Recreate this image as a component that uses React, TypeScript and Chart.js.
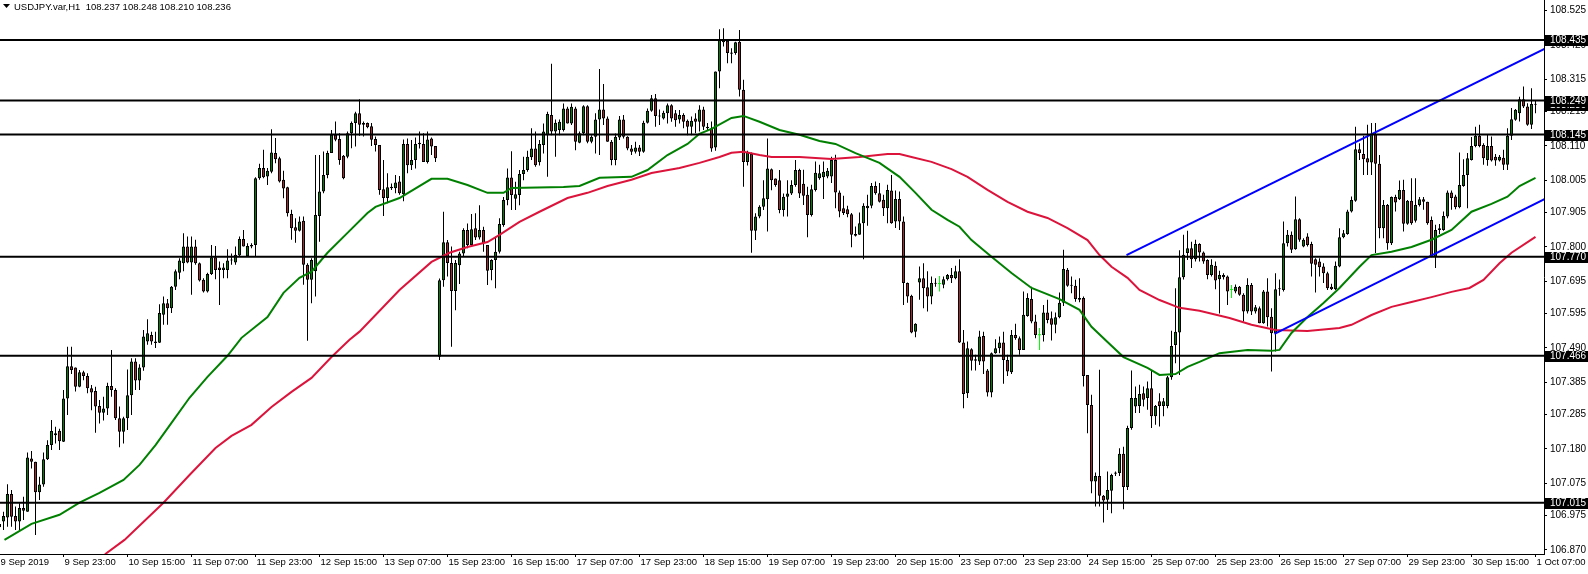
import React, { useEffect, useRef } from 'react';
import { Chart, registerables } from 'chart.js';

Chart.register(...registerables);

// ---- candles [open, high, low, close], one per hour ----
const candlesA: number[][] = [
  [106.940,106.962,106.921,106.950],[106.957,106.987,106.931,106.974],[106.970,107.072,106.941,107.042],[107.042,107.054,106.941,106.972],
  [106.974,107.003,106.931,106.957],[106.957,107.013,106.931,106.999],[106.999,107.033,106.962,106.990],[106.987,107.169,106.987,107.154],
  [107.151,107.174,107.120,107.141],[107.141,107.141,106.916,107.047],[107.047,107.095,107.023,107.071],[107.071,107.169,107.064,107.148],
  [107.148,107.207,107.146,107.192],[107.192,107.269,107.177,107.235],[107.228,107.248,107.197,107.222],[107.236,107.242,107.177,107.204],
  [107.202,107.361,107.201,107.335],[107.335,107.494,107.284,107.434],[107.434,107.494,107.410,107.422],[107.430,107.430,107.356,107.371],
  [107.371,107.422,107.369,107.415],[107.415,107.420,107.391,107.404],[107.404,107.412,107.351,107.366],[107.366,107.376,107.299,107.353],
  [107.358,107.371,107.230,107.310],[107.312,107.330,107.258,107.291],[107.291,107.340,107.267,107.304],[107.304,107.383,107.284,107.373],
  [107.373,107.484,107.340,107.361],[107.361,107.366,107.269,107.274],[107.274,107.310,107.185,107.233],[107.233,107.279,107.197,107.274],
  [107.274,107.424,107.238,107.345],[107.345,107.458,107.284,107.448],[107.448,107.458,107.361,107.390],[107.390,107.440,107.361,107.430],
  [107.430,107.545,107.420,107.525],[107.510,107.578,107.500,107.535],[107.530,107.540,107.500,107.510],[107.505,107.540,107.490,107.510],
  [107.506,107.624,107.505,107.597],[107.592,107.648,107.561,107.627],[107.627,107.640,107.561,107.612],[107.612,107.680,107.597,107.678],
  [107.678,107.731,107.668,107.725],[107.721,107.765,107.701,107.758],[107.750,107.842,107.725,107.801],[107.801,107.832,107.750,107.752],
  [107.752,107.832,107.653,107.801],[107.801,107.822,107.745,107.750],[107.750,107.752,107.694,107.697],[107.699,107.704,107.660,107.663],
  [107.663,107.721,107.660,107.717],[107.717,107.806,107.714,107.768],[107.768,107.803,107.701,107.729],[107.737,107.755,107.622,107.729],
  [107.729,107.750,107.704,107.737],[107.729,107.793,107.704,107.758],[107.758,107.780,107.745,107.760],[107.752,107.801,107.745,107.776],
  [107.774,107.832,107.770,107.824],[107.824,107.852,107.801,107.801],[107.771,107.811,107.770,107.803],[107.801,107.811,107.796,107.806],
  [107.806,108.014,107.770,108.011],[108.011,108.055,108.006,108.042],[108.042,108.098,108.011,108.014],[108.016,108.042,107.990,108.034],
  [108.031,108.161,108.026,108.090],[108.088,108.134,108.057,108.069],[108.072,108.077,107.998,108.001],[108.006,108.034,107.949,107.979],
  [107.983,107.985,107.893,107.903],[107.901,107.914,107.822,107.857],[107.860,107.888,107.813,107.850],[107.850,107.893,107.847,107.878],
  [107.880,107.893,107.684,107.745],[107.745,107.750,107.512,107.699],[107.699,107.765,107.627,107.760],[107.725,108.082,107.648,107.898],
  [107.895,108.082,107.816,107.970],[107.970,108.093,107.965,108.021],[108.021,108.095,108.011,108.088],[108.088,108.159,108.088,108.144],
  [108.144,108.185,108.124,108.129],[108.131,108.149,108.052,108.067],[108.080,108.082,108.008,108.011],[108.077,108.154,108.072,108.149],
  [108.149,108.185,108.103,108.180],[108.180,108.215,108.108,108.210],[108.210,108.253,108.141,108.175],[108.175,108.185,108.139,108.180],
  [108.180,108.182,108.164,108.167],[108.170,108.180,108.110,108.129],[108.131,108.139,108.093,108.113],[108.113,108.113,107.960,107.975],
  [107.977,108.067,107.895,107.950],[107.950,108.026,107.934,107.983],[107.980,107.995,107.975,107.985],[107.980,108.021,107.965,107.998],
];
const candlesB: number[][] = [
  [108.001,108.018,107.960,107.965],[107.962,108.130,107.940,108.116],[108.116,108.133,108.026,108.051],[108.051,108.128,108.036,108.067],
  [108.067,108.136,108.041,108.116],[108.120,108.154,108.102,108.115],[108.116,108.149,108.061,108.061],[108.061,108.154,108.056,108.130],
  [108.133,108.136,108.082,108.108],[108.110,108.110,108.061,108.072],[107.463,107.703,107.453,107.698],[107.698,107.908,107.678,107.814],
  [107.814,107.821,107.709,107.751],[107.751,107.801,107.494,107.665],[107.665,107.760,107.606,107.751],[107.744,107.785,107.686,107.780],
  [107.780,107.857,107.770,107.852],[107.852,107.872,107.796,107.806],[107.806,107.901,107.801,107.854],[107.857,107.903,107.821,107.829],
  [107.829,107.928,107.823,107.852],[107.852,107.862,107.785,107.811],[107.806,107.806,107.683,107.727],[107.729,107.762,107.698,107.760],
  [107.760,107.831,107.673,107.785],[107.785,107.888,107.780,107.870],[107.867,107.953,107.862,107.944],[107.944,108.041,107.928,108.013],
  [108.013,108.094,107.913,107.959],[107.948,108.000,107.913,107.962],[107.959,108.036,107.928,108.024],[108.024,108.077,108.005,108.036],
  [108.036,108.095,108.031,108.077],[108.075,108.164,108.067,108.102],[108.102,108.154,108.046,108.051],[108.060,108.128,108.050,108.116],
  [108.113,108.179,108.087,108.154],[108.143,108.215,108.015,108.208],[108.205,108.362,108.143,108.154],[108.154,108.191,108.077,108.181],
  [108.159,108.191,108.143,108.184],[108.159,108.240,108.154,108.225],[108.225,108.230,108.179,108.179],[108.179,108.240,108.174,108.230],
  [108.225,108.230,108.097,108.123],[108.120,108.154,108.118,108.149],[108.149,108.235,108.143,108.232],[108.232,108.235,108.118,108.123],
  [108.123,108.143,108.118,108.138],[108.138,108.210,108.087,108.191],[108.191,108.346,108.082,108.222],[108.222,108.300,108.174,108.194],
  [108.194,108.200,108.123,108.123],[108.123,108.128,108.051,108.067],[108.067,108.148,108.051,108.138],[108.136,108.202,108.128,108.191],
  [108.191,108.205,108.133,108.138],[108.138,108.140,108.097,108.102],[108.102,108.113,108.082,108.092],[108.092,108.123,108.087,108.105],
  [108.105,108.113,108.079,108.092],[108.092,108.187,108.089,108.181],[108.181,108.225,108.179,108.218],[108.218,108.266,108.215,108.256],
  [108.256,108.269,108.169,108.202],[108.202,108.222,108.174,108.200],[108.194,108.218,108.191,108.212],[108.210,108.240,108.179,108.235],
  [108.235,108.238,108.184,108.194],[108.210,108.220,108.169,108.189],[108.191,108.220,108.179,108.205],[108.205,108.210,108.164,108.184],
  [108.187,108.191,108.143,108.169],[108.169,108.200,108.143,108.187],[108.194,108.210,108.149,108.184],[108.184,108.235,108.154,108.222],
  [108.222,108.230,108.159,108.169],[108.169,108.180,108.159,108.164],[108.164,108.185,108.092,108.102],[108.105,108.338,108.095,108.338],
  [108.338,108.468,108.287,108.436],[108.436,108.471,108.415,108.428],[108.433,108.436,108.364,108.395],[108.397,108.410,108.364,108.393],
  [108.395,108.430,108.390,108.428],[108.430,108.466,108.262,108.282],[108.282,108.313,107.985,108.061],[108.061,108.095,108.050,108.090],
  [108.085,108.090,107.782,107.850],[107.850,107.903,107.821,107.893],[107.893,107.928,107.888,107.923],[107.923,108.005,107.913,107.949],
  [107.946,108.133,107.847,108.041],[108.038,108.041,107.974,108.005],[108.010,108.010,107.985,107.990],[108.005,108.036,107.903,107.913],
  [107.913,107.964,107.893,107.954],[107.954,108.005,107.893,107.964],[107.964,108.005,107.959,107.990],[107.990,108.067,107.985,108.036],
];
const candlesC: number[][] = [
  [108.036,108.040,107.950,107.964],[107.994,108.037,107.929,107.957],[107.960,107.985,107.830,107.898],[107.898,107.991,107.893,107.977],
  [107.975,108.062,107.970,108.028],[108.011,108.052,108.006,108.026],[108.014,108.062,107.947,108.031],[108.016,108.042,108.011,108.034],
  [108.016,108.077,107.996,108.067],[108.067,108.083,107.919,107.967],[107.967,107.973,107.891,107.909],[107.919,107.957,107.898,107.904],
  [107.916,107.926,107.891,107.900],[107.900,107.904,107.799,107.837],[107.840,107.863,107.832,107.834],[107.837,107.906,107.837,107.873],
  [107.873,107.934,107.762,107.926],[107.919,107.960,107.865,107.926],[107.926,107.996,107.919,107.987],[107.987,108.001,107.960,107.965],
  [107.965,107.996,107.936,107.939],[107.945,107.960,107.895,107.919],[107.919,107.991,107.873,107.975],[107.973,108.021,107.871,107.873],
  [107.878,107.973,107.858,107.947],[107.947,107.970,107.852,107.878],[107.878,107.893,107.622,107.689],[107.689,107.691,107.629,107.648],
  [107.650,107.653,107.535,107.537],[107.540,107.566,107.523,107.564],[107.691,107.740,107.638,107.704],[107.704,107.750,107.612,107.673],
  [107.676,107.725,107.602,107.648],[107.648,107.709,107.624,107.689],[107.689,107.704,107.678,107.687],[107.686,107.711,107.663,107.686],
  [107.684,107.709,107.673,107.701],[107.701,107.717,107.697,107.714],[107.714,107.735,107.689,107.704],[107.704,107.742,107.701,107.725],
  [107.725,107.762,107.505,107.507],[107.507,107.545,107.305,107.349],[107.351,107.510,107.336,107.489],[107.486,107.489,107.421,107.451],
  [107.455,107.469,107.421,107.451],[107.448,107.543,107.438,107.525],[107.527,107.540,107.410,107.448],[107.421,107.425,107.341,107.353],
  [107.353,107.476,107.339,107.474],[107.474,107.517,107.472,107.489],[107.489,107.525,107.474,107.507],[107.507,107.540,107.380,107.453],
  [107.453,107.469,107.404,107.418],[107.415,107.545,107.410,107.530],[107.530,107.564,107.515,107.520],[107.520,107.525,107.469,107.484],
  [107.484,107.663,107.484,107.592],[107.588,107.658,107.586,107.643],[107.640,107.678,107.566,107.571],[107.571,107.592,107.520,107.530],
  [107.529,107.551,107.484,107.529],[107.530,107.622,107.510,107.599],[107.599,107.638,107.566,107.576],[107.581,107.602,107.513,107.561],
  [107.561,107.599,107.535,107.584],[107.584,107.660,107.581,107.629],[107.629,107.791,107.619,107.732],[107.730,107.735,107.678,107.681],
  [107.684,107.709,107.658,107.681],[107.681,107.699,107.632,107.640],[107.643,107.704,107.630,107.638],[107.643,107.648,107.372,107.404],
  [107.407,107.407,107.228,107.315],[107.315,107.346,107.044,107.080],[107.080,107.108,107.003,107.097],[107.097,107.423,107.003,107.036],
  [107.036,107.039,106.954,107.022],[107.024,107.111,106.993,107.054],[107.052,107.104,106.983,107.100],[107.104,107.111,107.097,107.108],
  [107.106,107.182,107.097,107.165],[107.165,107.187,106.995,107.063],[107.063,107.251,107.054,107.244],[107.244,107.421,107.239,107.336],
  [107.310,107.372,107.290,107.336],[107.312,107.377,107.290,107.349],[107.351,107.372,107.310,107.331],[107.336,107.387,107.300,107.366],
  [107.366,107.421,107.244,107.280],[107.280,107.315,107.254,107.312],[107.326,107.351,107.249,107.312],[107.312,107.336,107.280,107.326],
  [107.312,107.404,107.305,107.400],[107.400,107.543,107.392,107.496],[107.499,107.673,107.443,107.540],[107.537,107.790,107.407,107.707],
  [107.707,107.837,107.700,107.776],[107.781,107.850,107.760,107.796],[107.796,107.816,107.735,107.762],[107.762,107.822,107.755,107.809],
];
const candlesD: number[][] = [
  [107.809,107.811,107.755,107.783],[107.783,107.786,107.748,107.755],[107.760,107.762,107.701,107.714],[107.714,107.762,107.709,107.745],
  [107.742,107.755,107.670,107.697],[107.701,107.727,107.596,107.714],[107.714,107.719,107.700,107.707],[107.709,107.712,107.622,107.663],
  [107.668,107.683,107.643,107.668],[107.663,107.685,107.658,107.678],[107.678,107.680,107.650,107.653],[107.653,107.658,107.571,107.602],
  [107.602,107.704,107.596,107.683],[107.683,107.689,107.591,107.602],[107.602,107.622,107.596,107.615],[107.612,107.617,107.566,107.566],
  [107.566,107.668,107.564,107.663],[107.663,107.704,107.556,107.584],[107.586,107.612,107.418,107.535],[107.535,107.719,107.479,107.670],
  [107.670,107.700,107.650,107.673],[107.668,107.878,107.663,107.811],[107.811,107.852,107.801,107.837],[107.837,107.847,107.781,107.791],
  [107.793,107.955,107.791,107.885],[107.885,107.888,107.816,107.822],[107.801,107.827,107.799,107.822],[107.832,107.842,107.801,107.806],
  [107.809,107.816,107.709,107.748],[107.762,107.765,107.660,107.745],[107.755,107.765,107.709,107.738],[107.740,107.750,107.689,107.719],
  [107.719,107.724,107.668,107.673],[107.678,107.687,107.668,107.670],[107.670,107.755,107.668,107.742],[107.740,107.857,107.738,107.830],
  [107.830,107.852,107.827,107.842],[107.840,107.914,107.837,107.909],[107.909,107.955,107.906,107.944],[107.942,108.169,107.939,108.100],
  [108.100,108.118,108.067,108.088],[108.085,108.141,108.021,108.069],[108.072,108.175,108.021,108.059],[108.059,108.180,108.021,108.146],
  [108.146,108.180,107.781,108.055],[108.055,108.082,107.827,107.857],[107.857,107.944,107.827,107.929],[107.929,107.932,107.791,107.811],
  [107.811,107.955,107.806,107.953],[107.953,107.960,107.909,107.936],[107.946,108.004,107.944,107.975],[107.975,108.006,107.847,107.871],
  [107.871,107.944,107.868,107.942],[107.942,108.011,107.868,107.873],[107.880,108.011,107.875,107.929],[107.929,107.953,107.924,107.946],
  [107.946,107.953,107.914,107.939],[107.939,107.939,107.868,107.873],[107.883,107.893,107.768,107.770],[107.770,107.868,107.735,107.852],
  [107.852,107.870,107.840,107.857],[107.852,107.909,107.850,107.895],[107.893,107.973,107.888,107.967],[107.967,107.973,107.914,107.950],
  [107.955,107.960,107.916,107.922],[107.922,108.090,107.919,107.990],[107.987,108.069,107.985,108.021],[108.021,108.088,107.919,108.072],
  [108.067,108.137,108.065,108.110],[108.110,108.169,108.106,108.141],[108.141,108.175,108.106,108.110],[108.113,108.118,108.052,108.072],
  [108.067,108.144,108.049,108.110],[108.110,108.139,108.062,108.065],[108.077,108.085,108.049,108.065],[108.065,108.082,108.062,108.077],
  [108.074,108.098,108.036,108.052],[108.052,108.164,108.036,108.141],[108.141,108.226,108.128,108.192],[108.190,108.223,108.187,108.221],
  [108.210,108.261,108.185,108.253],[108.253,108.292,108.226,108.231],[108.231,108.241,108.172,108.175],[108.175,108.287,108.162,108.239],
  [108.237,108.248,108.210,108.236],
];

// ---- moving averages (read at sample bars) ----
const fastMaBars = [1.25,8,15,20,25,31,35,39,43,47.5,52,57,60.5,67,71,75,78,82,87,92,94,100,108,112,117,122,126,128,141,145,150,158,162,167,172,175,178,183,186,190,195,200,205,209,214,220,225,229,233,237,240,243,248,253,258,265,270,273,277,281,287,290,294,297,300,305,312,318,320,323,327,331,335,340,343,348,353,358,363,368,373,377,380,384];
const fastMa = [106.901,106.950,106.978,107.015,107.045,107.085,107.131,107.192,107.260,107.337,107.401,107.466,107.521,107.585,107.659,107.705,107.724,107.782,107.843,107.904,107.923,107.950,108.009,108.009,107.990,107.966,107.966,107.981,107.984,107.987,108.012,108.015,108.036,108.082,108.116,108.147,108.162,108.196,108.202,108.184,108.159,108.144,108.125,108.116,108.088,108.058,108.015,107.966,107.914,107.883,107.862,107.821,107.770,107.720,107.674,107.640,107.607,107.555,107.508,107.462,107.429,107.407,107.410,107.432,107.447,107.474,107.484,107.481,107.484,107.536,107.585,107.628,107.674,107.739,107.775,107.785,107.800,107.822,107.852,107.908,107.932,107.954,107.987,108.012];
const slowMaBars = [24,26.5,31.25,41,47.5,54,58,63,68,73,78,83,87.5,90,100,108,112.5,117,122,125,130,135,142,147,152,158,163,170,175,180,183,186,190,193,200,208,215,222,225,228,233,238,242,247,252,257,262,267,272,275,278,282,285,290,295,300,307.5,313,319,327,335,338,343,348,353,358,363,367.5,371,375,378,384];
const slowMa = [106.80,106.858,106.901,107.015,107.100,107.183,107.220,107.254,107.309,107.355,107.398,107.462,107.515,107.540,107.668,107.754,107.782,107.800,107.815,107.837,107.877,107.908,107.950,107.966,107.987,108.006,108.027,108.042,108.058,108.076,108.089,108.092,108.082,108.076,108.076,108.070,108.076,108.085,108.085,108.076,108.061,108.039,108.015,107.975,107.938,107.908,107.889,107.858,107.821,107.775,107.739,107.705,107.668,107.637,107.613,107.604,107.582,107.561,107.545,107.542,107.551,107.561,107.591,107.616,107.631,107.646,107.662,107.674,107.699,107.750,107.782,107.831];

// ---- trend lines ----
const upperTrendBars = [281.75, 387];
const upperTrend = [107.775, 108.412];
const lowerTrendBars = [318.75, 387];
const lowerTrend = [107.533, 107.951];

// ---- horizontal levels / axis ----
const levels = [108.435, 108.249, 108.145, 107.770, 107.466, 107.015];
const bidPrice = 108.236;
const priceTicks = [108.525,108.420,108.315,108.215,108.110,108.005,107.905,107.800,107.695,107.595,107.490,107.385,107.285,107.180,107.075,106.975,106.870];
const timeLabels = ['9 Sep 2019','9 Sep 23:00','10 Sep 15:00','11 Sep 07:00','11 Sep 23:00','12 Sep 15:00','13 Sep 07:00','15 Sep 23:00','16 Sep 15:00','17 Sep 07:00','17 Sep 23:00','18 Sep 15:00','19 Sep 07:00','19 Sep 23:00','20 Sep 15:00','23 Sep 07:00','23 Sep 23:00','24 Sep 15:00','25 Sep 07:00','25 Sep 23:00','26 Sep 15:00','27 Sep 07:00','29 Sep 23:00','30 Sep 15:00','1 Oct 07:00'];
const labelEvery = 16;
const titleText = 'USDJPY.var,H1  108.237 108.248 108.210 108.236';

const FONT = '"Liberation Sans", Arial, sans-serif';
const BULL = '#008000';
const BEAR = '#a52a2a';
const DOJI = '#00ff00';

export default function App() {
  const ref = useRef<HTMLCanvasElement | null>(null);

  useEffect(() => {
    document.body.style.margin = '0';
    const canvas = ref.current;
    if (!canvas) return;
    const candles = [...candlesA, ...candlesB, ...candlesC, ...candlesD];

    const bodyData = candles.map((c, i) => ({ x: i, y: [c[0], c[3]] }));
    const wickData = candles.map((c, i) => ({ x: i, y: [c[2], c[1]] }));
    const bodyBg = candles.map(c => (c[0] === c[3] ? DOJI : c[3] > c[0] ? BULL : BEAR));
    const bodyBw = candles.map(c => (c[0] === c[3] ? 0 : 1));
    const wickBg = candles.map(c => (c[0] === c[3] ? DOJI : '#000000'));

    const pts = (xs: number[], ys: number[]) => xs.map((x, k) => ({ x, y: ys[k] }));
    const lineDs = (data: any[], color: string, order: number) => ({
      type: 'line' as const, data, borderColor: color, borderWidth: 2, pointRadius: 0,
      tension: 0, fill: false, order,
    });

    const levelSets = levels.map(v => lineDs([{ x: -2, y: v }, { x: 390, y: v }], '#000000', 1));

    const overlay = {
      id: 'mt4Overlay',
      afterDraw(chart: any) {
        const ctx = chart.ctx as CanvasRenderingContext2D;
        const ys = chart.scales.y;
        const right = chart.chartArea.right;
        ctx.save();
        ctx.font = `10px ${FONT}`;
        ctx.textBaseline = 'middle';
        ctx.textAlign = 'left';
        for (const v of [bidPrice, ...levels]) {
          const py = Math.round(ys.getPixelForValue(v));
          ctx.fillStyle = '#000';
          ctx.fillRect(right + 1, py - 5, chart.width - right - 1, 11);
          ctx.fillStyle = '#fff';
          ctx.fillText(v.toFixed(3), right + 6, py + 0.5);
        }
        ctx.fillStyle = '#000';
        ctx.beginPath();
        ctx.moveTo(3, 4); ctx.lineTo(10, 4); ctx.lineTo(6.5, 8); ctx.closePath();
        ctx.fill();
        ctx.font = `9.5px ${FONT}`;
        ctx.fillText(titleText, 14, 7);
        ctx.restore();
      },
    };

    const chart = new Chart(canvas, {
      type: 'bar',
      data: {
        datasets: [
          ...levelSets,
          lineDs(pts(upperTrendBars, upperTrend), '#0000ff', 2),
          lineDs(pts(lowerTrendBars, lowerTrend), '#0000ff', 2),
          lineDs(pts(fastMaBars, fastMa), '#008000', 3),
          lineDs(pts(slowMaBars, slowMa), '#dc143c', 3),
          {
            type: 'bar' as const, data: bodyData as any, backgroundColor: bodyBg, borderColor: '#000000',
            borderWidth: bodyBw, borderSkipped: false, barThickness: 3, grouped: false,
            minBarLength: 1, inflateAmount: 0, order: 5,
          },
          {
            type: 'bar' as const, data: wickData as any, backgroundColor: wickBg, borderWidth: 0,
            barThickness: 1, grouped: false, inflateAmount: 0, order: 6,
          },
        ] as any,
      },
      options: {
        responsive: false,
        animation: false,
        devicePixelRatio: 1,
        events: [],
        layout: { padding: 0 },
        plugins: { legend: { display: false }, tooltip: { enabled: false }, title: { display: false } },
        scales: {
          x: {
            type: 'linear', position: 'bottom', min: 0.125, max: 386.125, offset: false,
            grid: { offset: false, drawOnChartArea: false, drawTicks: true, tickLength: 3, color: '#000' },
            border: { display: true, color: '#000', width: 1 },
            ticks: {
              autoSkip: false, maxRotation: 0, minRotation: 0, align: 'start', labelOffset: 1, padding: 0,
              color: '#000', font: { family: FONT, size: 9.5 },
              callback: (v: any) => timeLabels[Math.round(Number(v) / labelEvery)] ?? '',
            },
            afterBuildTicks: (s: any) => { s.ticks = timeLabels.map((_, k) => ({ value: k * labelEvery })); },
            afterFit: (s: any) => { s.height = 20; s.paddingLeft = 0; s.paddingRight = 0; },
          },
          y: {
            type: 'linear', position: 'right', min: 106.8576, max: 108.5578,
            grid: { drawOnChartArea: false, drawTicks: true, tickLength: 3, color: '#000' },
            border: { display: true, color: '#000', width: 1 },
            ticks: {
              autoSkip: false, padding: 3, color: '#000', font: { family: FONT, size: 10 },
              callback: (v: any) => Number(v).toFixed(3),
            },
            afterBuildTicks: (s: any) => { s.ticks = priceTicks.map(v => ({ value: v })); },
            afterFit: (s: any) => { s.width = 44; s.paddingTop = 0; s.paddingBottom = 0; },
          },
        } as any,
      },
      plugins: [overlay],
    });

    return () => chart.destroy();
  }, []);

  return (
    <div style={{ width: 1588, height: 574, background: '#fff' }}>
      <canvas ref={ref} width={1588} height={574} style={{ display: 'block' }} />
    </div>
  );
}
